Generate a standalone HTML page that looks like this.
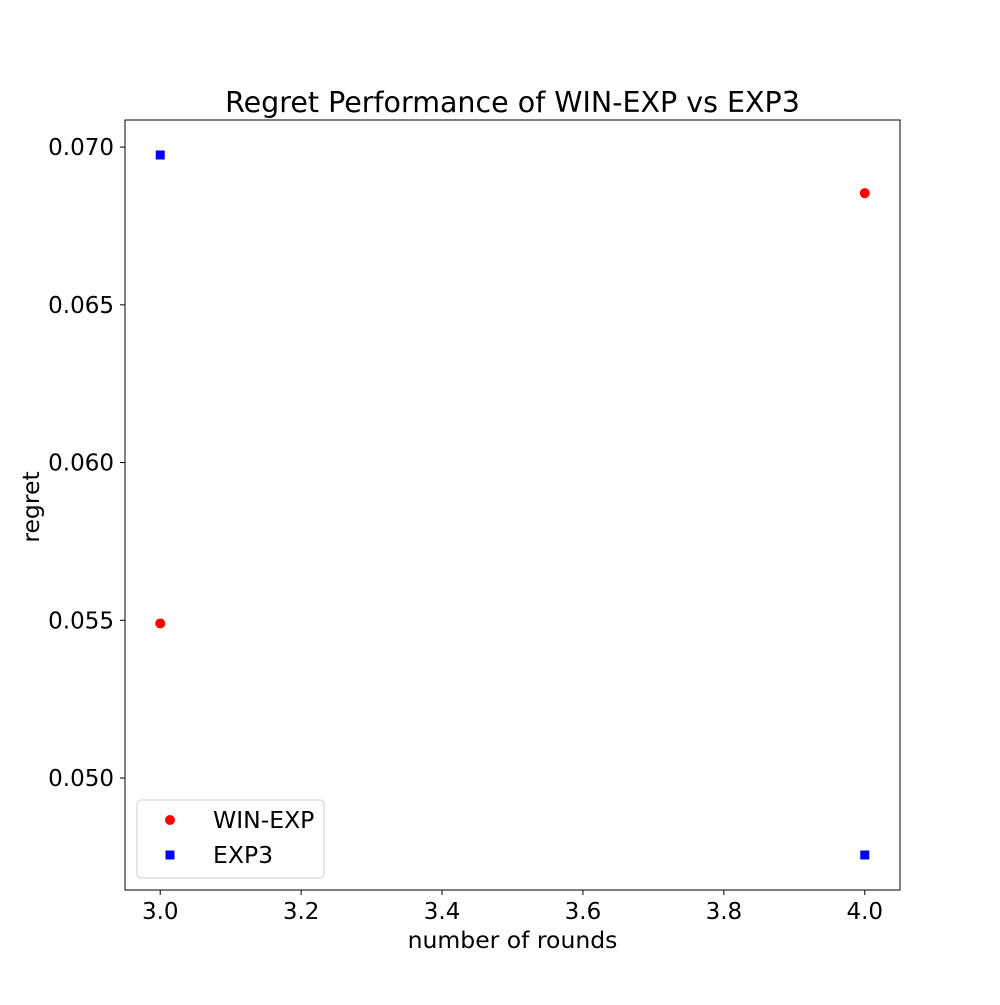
<!DOCTYPE html>
<html><head><meta charset="utf-8"><style>
body{margin:0;background:#fff;}
svg text{font-family:"DejaVu Sans","Liberation Sans",sans-serif;fill:#000;}
</style></head><body>
<svg id="chart" width="1000" height="1000" xmlns="http://www.w3.org/2000/svg">
<rect width="1000" height="1000" fill="#fff"/>
<text x="512.5" y="112" font-size="28.5" text-anchor="middle">Regret Performance of WIN-EXP vs EXP3</text>
<g id="marks"></g>
<g id="axes"></g>
<rect x="125" y="120" width="775" height="770" fill="none" stroke="#000" stroke-width="1"/>
<text x="512.5" y="948" font-size="23.5" text-anchor="middle">number of rounds</text>
<text transform="translate(39,507) rotate(-90)" font-size="23.5" text-anchor="middle">regret</text>
<g>
<rect x="137" y="800" width="187" height="78" rx="4" fill="#fff" fill-opacity="0.8" stroke="#ccc"/>
<circle cx="170" cy="820" r="5" fill="red"/>
<text x="213" y="828" font-size="23.5">WIN-EXP</text>
<rect x="165.5" y="850.5" width="9" height="9" fill="blue"/>
<text x="213" y="863" font-size="23.5">EXP3</text>
</g>
</svg>
<script>
const rounds = [3, 4];
const winExp = [0.05490, 0.06854];
const exp3 = [0.06975, 0.04756];
const xTicks = [3.0, 3.2, 3.4, 3.6, 3.8, 4.0];
const yTicks = [0.050, 0.055, 0.060, 0.065, 0.070];

const L=125,R=900,T=120,B=890;
const xmin0=Math.min(...rounds),xmax0=Math.max(...rounds);
const xm=(xmax0-xmin0)*0.05;
const xmin=xmin0-xm,xmax=xmax0+xm;
const all=winExp.concat(exp3);
const ymin0=Math.min(...all),ymax0=Math.max(...all);
const ym=(ymax0-ymin0)*0.05;
const ymin=ymin0-ym,ymax=ymax0+ym;
const sx=v=>L+(v-xmin)/(xmax-xmin)*(R-L);
const sy=v=>B-(v-ymin)/(ymax-ymin)*(B-T);
const NS="http://www.w3.org/2000/svg";
const axes=document.getElementById('axes');
const marks=document.getElementById('marks');
function mk(tag,attrs,parent){const e=document.createElementNS(NS,tag);for(const k in attrs)e.setAttribute(k,attrs[k]);parent.appendChild(e);return e;}
xTicks.forEach(t=>{
  const x=sx(t);
  const l=mk('line',{x1:x,x2:x,y1:B,y2:B+5,stroke:'#000'},axes);
  
  
  const tx=mk('text',{x:x,y:B+29,'font-size':23,'text-anchor':'middle'},axes);
  tx.textContent=t.toFixed(1);
  
  
});
yTicks.forEach(t=>{
  const y=sy(t);
  const l=mk('line',{x1:L-5,x2:L,y1:y,y2:y,stroke:'#000'},axes);
  
  
  const tx=mk('text',{x:L-11,y:y+8,'font-size':23,'text-anchor':'end'},axes);
  tx.textContent=t.toFixed(3);
  
  
});
rounds.forEach((r,i)=>{
  const c=mk('circle',{cx:sx(r),cy:sy(winExp[i]),r:5,fill:'red'},marks);
  
  
  const s=mk('rect',{x:sx(r)-4.5,y:sy(exp3[i])-4.5,width:9,height:9,fill:'blue'},marks);
  
  
});
</script>
</body></html>
